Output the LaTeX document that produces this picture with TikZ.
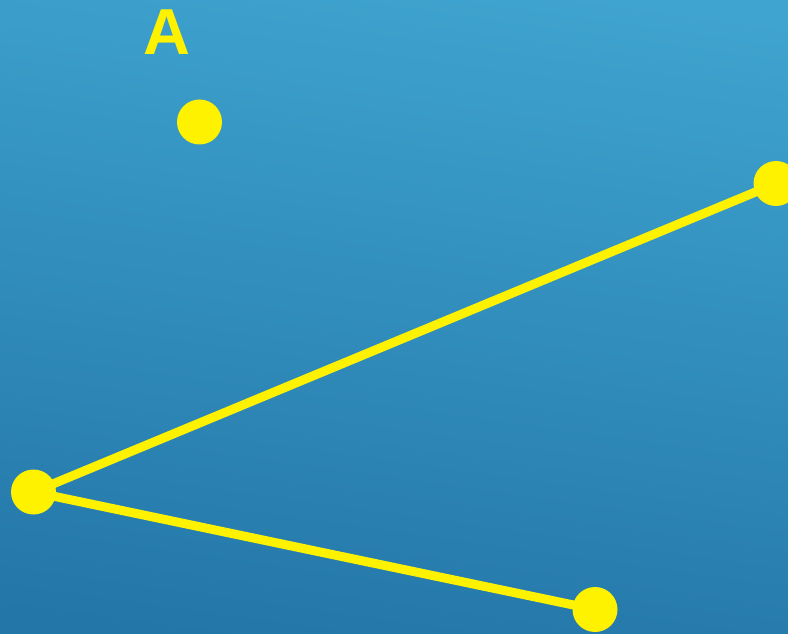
\documentclass[tikz,border=0pt]{standalone}
\usepackage{fontspec}
\setmainfont{Liberation Sans}
\definecolor{bgtop}{RGB}{63,164,207}
\definecolor{bgbot}{RGB}{35,118,168}
\definecolor{ylw}{RGB}{255,242,0}
\begin{document}
\begin{tikzpicture}[x=1pt,y=1pt,
  dot/.style={circle,fill=ylw,inner sep=0pt,minimum size=45pt},
  seg/.style={draw=ylw,line width=9pt}]
\useasboundingbox (0,0) rectangle (788,633);
\shade[top color=bgtop,bottom color=bgbot,shading angle=-8] (-20,-20) rectangle (808,653);
\clip (0,0) rectangle (788,633);
\node[text=ylw,font=\fontsize{65}{65}\selectfont\bfseries,anchor=base,inner sep=0pt] (lblA) at (167,578.7) {A};
\coordinate (pA) at (199.5,511);
\coordinate (pL) at (33.5,141);
\coordinate (pR) at (776,449.5);
\coordinate (pB) at (595,23.5);
\draw[seg] (pL) -- (pR);
\draw[seg] (pL) -- (pB);
\node[dot] (dA) at (pA) {};
\node[dot] (dL) at (pL) {};
\node[dot] (dR) at (pR) {};
\node[dot] (dB) at (pB) {};
\end{tikzpicture}
\end{document}
